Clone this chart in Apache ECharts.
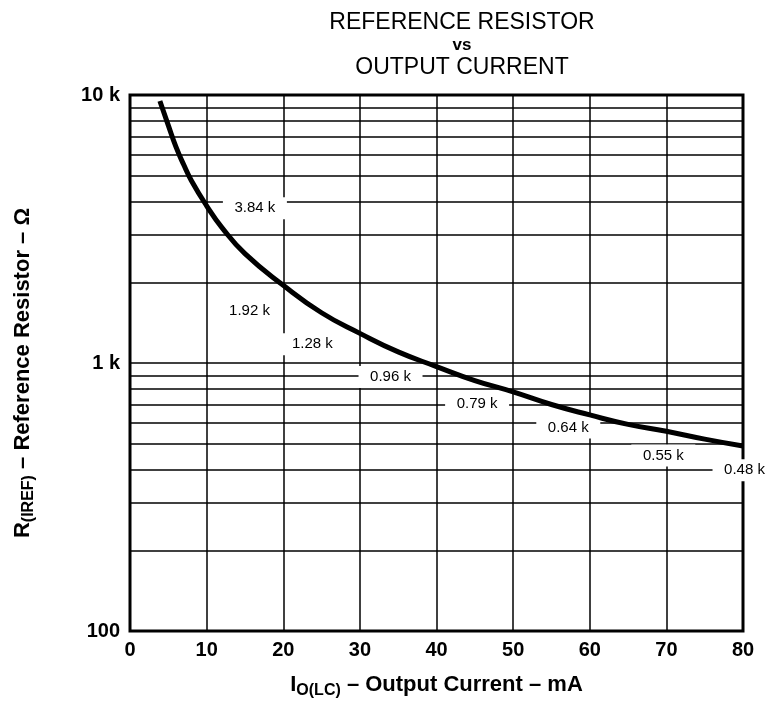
<!DOCTYPE html>
<html>
<head>
<meta charset="utf-8">
<script src="https://cdn.jsdelivr.net/npm/echarts@6/dist/echarts.min.js"></script>
<style>
  html, body { margin: 0; padding: 0; background: #fff; }
  #graph { width: 772px; height: 704px; }
</style>
</head>
<body>
<div id="graph"></div>
<script>
// curve: output current (mA) vs reference resistor (ohm)
const currentMA = [3.9, 5, 6, 7, 8, 10, 12, 15, 20, 25, 30, 35, 40, 45, 50, 55, 60, 65, 70, 75, 80]
const resistance = [9500, 7700, 6400, 5500, 4800, 3860, 3200, 2560, 1950, 1540, 1290, 1100, 970, 860, 780, 700, 640, 590, 556, 520, 490]

// minor grid lines on the log axis
const minorGrid = [200, 300, 400, 500, 600, 700, 800, 900, 2000, 3000, 4000, 5000, 6000, 7000, 8000, 9000]

// callout labels and where they sit (data coordinates)
const noteText = ['3.84 k', '1.92 k', '1.28 k', '0.96 k', '0.79 k', '0.64 k', '0.55 k', '0.48 k']
const noteX = [16.3, 15.6, 23.8, 34, 45.3, 57.2, 69.6, 80.2]
const noteY = [3780, 1560, 1175, 887, 706, 575, 452, 398]

const black = '#000'
const font = 'Liberation Sans, Arial, sans-serif'

const chart = echarts.init(document.getElementById('graph'))

const subName = {
  m: { fontFamily: font, fontWeight: 'bold', fontSize: 22, color: black, lineHeight: 28 },
  s: { fontFamily: font, fontWeight: 'bold', fontSize: 16, color: black, verticalAlign: 'bottom', lineHeight: 28, padding: [9, 0, 0, 0] }
}

const option = {
  animation: false,
  backgroundColor: '#fff',
  title: {
    left: 457,
    top: 6,
    textAlign: 'center',
    text: '{a|REFERENCE RESISTOR}\n{b|vs}\n{a|OUTPUT CURRENT}',
    textStyle: {
      rich: {
        a: { fontFamily: font, fontSize: 23, fontWeight: 'normal', color: black, lineHeight: 23 },
        b: { fontFamily: font, fontSize: 17, fontWeight: 'bold', color: black, lineHeight: 22 }
      }
    }
  },
  grid: {
    left: 130,
    top: 95,
    right: 29,
    bottom: 70,
    show: true,
    borderColor: black,
    borderWidth: 3
  },
  xAxis: {
    type: 'value',
    min: 0,
    max: 80,
    interval: 10,
    axisLine: { show: false },
    axisTick: { show: false },
    splitLine: { lineStyle: { color: black, width: 1.5 } },
    axisLabel: {
      margin: 9,
      color: black,
      fontFamily: font,
      fontWeight: 'bold',
      fontSize: 20
    },
    name: '{m|I}{s|O(LC)}{m| – Output Current – mA}',
    nameLocation: 'middle',
    nameGap: 40,
    nameTextStyle: { rich: subName }
  },
  yAxis: {
    type: 'log',
    logBase: 10,
    min: 100,
    max: 10000,
    axisLine: { show: false },
    axisTick: { show: false },
    splitLine: { lineStyle: { color: black, width: 1.5 } },
    axisLabel: {
      margin: 10,
      color: black,
      fontFamily: font,
      fontWeight: 'bold',
      fontSize: 20,
      formatter: v => (v >= 1000 ? (v / 1000) + ' k' : String(v))
    },
    name: '{m|R}{s|(IREF)}{m| – Reference Resistor – Ω}',
    nameLocation: 'middle',
    nameRotate: 90,
    nameGap: 93,
    nameTextStyle: { rich: subName, padding: [0, 20, 0, 0] }
  },
  series: [
    {
      name: 'grid',
      type: 'line',
      data: [],
      silent: true,
      z: 1,
      markLine: {
        z: 1,
        silent: true,
        symbol: 'none',
        label: { show: false },
        lineStyle: { color: black, width: 1.5, type: 'solid' },
        data: minorGrid.map(v => ({ yAxis: v }))
      }
    },
    {
      // white boxes behind the callouts break the grid lines like the original
      name: 'notes',
      type: 'scatter',
      symbol: 'rect',
      symbolSize: [64, 22],
      clip: false,
      silent: true,
      z: 3,
      itemStyle: { color: '#fff', opacity: 1 },
      data: noteX.map((x, i) => [x, noteY[i], noteText[i]]),
      label: {
        show: true,
        position: 'inside',
        formatter: p => p.value[2],
        color: black,
        fontFamily: font,
        fontSize: 15
      }
    },
    {
      name: 'R(IREF)',
      type: 'line',
      smooth: true,
      symbol: 'none',
      z: 4,
      lineStyle: { color: black, width: 5 },
      data: currentMA.map((x, i) => [x, resistance[i]])
    }
  ]
}

chart.setOption(option)
</script>
</body>
</html>
